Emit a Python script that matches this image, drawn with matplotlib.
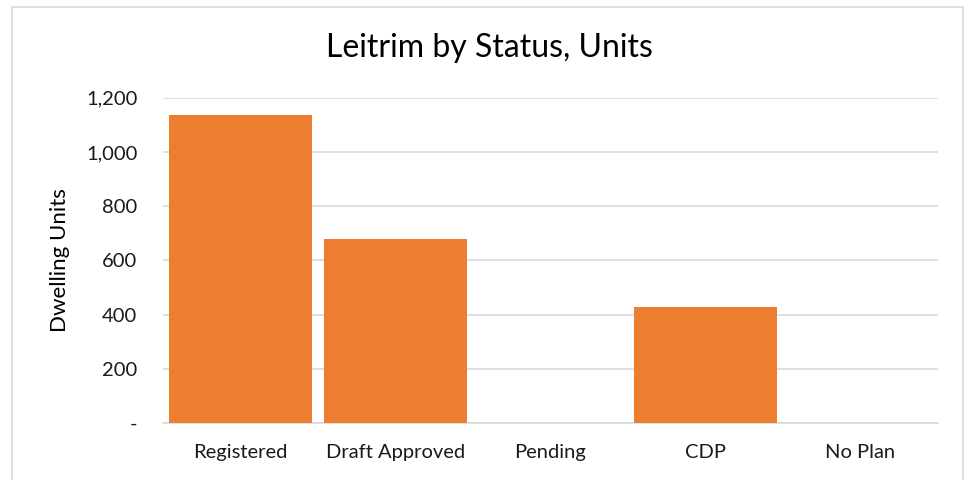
import matplotlib
matplotlib.use("Agg")
import matplotlib.pyplot as plt
from matplotlib.patches import Rectangle

categories = ["Registered", "Draft Approved", "Pending", "CDP", "No Plan"]
units = [1136, 680, 0, 428, 0]
yticks = [0, 200, 400, 600, 800, 1000, 1200]
ytick_labels = ["-", "200", "400", "600", "800", "1,000", "1,200"]

plt.rcParams['font.family'] = ['Lato', 'DejaVu Sans']

fig = plt.figure(figsize=(9.71, 4.8), dpi=100)
W, H = 971, 480
ax = fig.add_axes([163 / W, (H - 423) / H, 775 / W, 325.3 / H])

x = list(range(len(categories)))
ax.bar(x, units, width=0.92, color="#ED7D31", zorder=3)
ax.set_xlim(-0.5, len(categories) - 0.5)
ax.set_ylim(0, 1200)
ax.set_yticks(yticks)
ax.set_yticklabels(ytick_labels, fontsize=14.5, color="#1a1a1a")
ax.set_xticks(x)
ax.set_xticklabels(categories, fontsize=14.5, color="#1a1a1a")
ax.tick_params(axis="both", length=0)
ax.tick_params(axis="y", pad=18.5)
ax.tick_params(axis="x", pad=15)
ax.grid(axis="y", color="#d9d9d9", linewidth=1.2, zorder=0)
for s in ["top", "right", "left"]:
    ax.spines[s].set_visible(False)
ax.spines["bottom"].set_color("#d9d9d9")
ax.spines["bottom"].set_linewidth(1.2)

ax.set_ylabel("Dwelling Units", fontsize=16, color="#000000")
ax.yaxis.set_label_coords(-(163 - 60) / 775, 0.5)
ax.yaxis.label.set_va("center")

fig.text(489 / W, 1 - 57 / H, "Leitrim by Status, Units", fontsize=23, ha="center", va="baseline", color="#000000")

fig.patches.append(Rectangle((12 / W, -0.05), (963 - 12) / W, 1.05 - 7 / H,
                             transform=fig.transFigure, fill=False, edgecolor="#d9d9d9", linewidth=1.2))

fig.savefig("out.png", dpi=100, facecolor="white")
